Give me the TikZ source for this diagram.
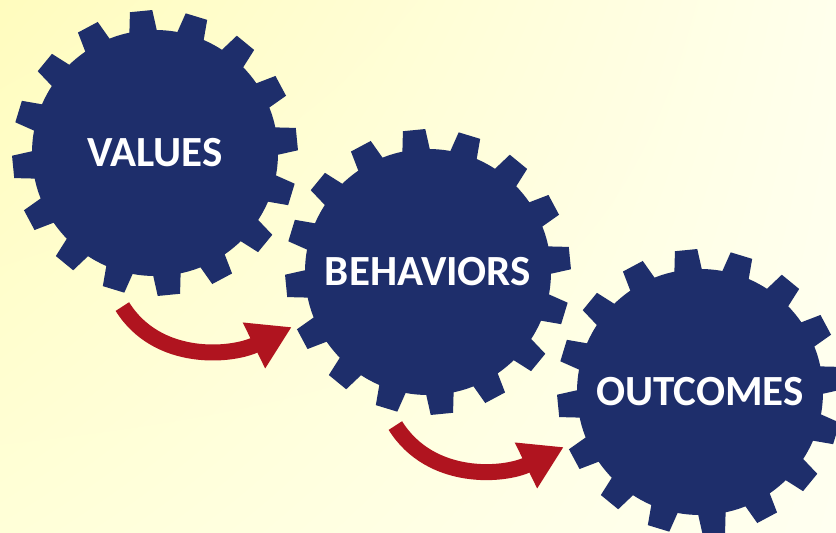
\documentclass[tikz,border=0pt]{standalone}
\usepackage{fontspec}
\setmainfont{Carlito}
\usetikzlibrary{arrows.meta,calc,positioning,shadings}
\definecolor{gearblue}{HTML}{1E2E6B}
\definecolor{arrowred}{HTML}{B0141F}
\definecolor{bgul}{HTML}{FFFCBE}
\definecolor{bgll}{HTML}{FFFFD8}
\definecolor{bgur}{HTML}{FFFFEC}
\definecolor{bglr}{HTML}{FFFFF0}
\tikzset{
  gear/.style={circle, fill=gearblue, minimum size=246pt, inner sep=0pt,
    text=white, font=\fontsize{43}{46}\selectfont\bfseries},
  turn/.style={draw=arrowred, line width=16pt,
    -{Triangle[width=48pt, length=42pt]}},
}
\begin{document}
\begin{tikzpicture}[x=1pt, y=1pt]
  \shade[upper left=bgul, lower left=bgll, upper right=bgur, lower right=bglr]
    (0,0) rectangle (836,533);
  \useasboundingbox (0,0) rectangle (836,533);

  \node[gear] (values) at (155,380) {VALUES};
  \node[gear] (behaviors) at (428,261) {BEHAVIORS};
  \node[gear] (outcomes) at (700,141) {OUTCOMES};

  % teeth
  \foreach \g in {values,behaviors,outcomes}
    \foreach \a in {5.6,28.1,...,365}
      \fill[gearblue] ($(\g)+(\a-7:118)$) -- ($(\g)+(\a-4.5:143)$)
        -- ($(\g)+(\a+4.5:143)$) -- ($(\g)+(\a+7:118)$) -- cycle;

  \coordinate (vb) at ($(values)+(258:157)$);
  \coordinate (bv) at ($(behaviors)+(202:147)$);
  \coordinate (bo) at ($(behaviors)+(258:157)$);
  \coordinate (ob) at ($(outcomes)+(202:147)$);

  \draw[turn] (vb) to[out=-58, in=206] (bv);
  \draw[turn] (bo) to[out=-58, in=206] (ob);
\end{tikzpicture}
\end{document}
